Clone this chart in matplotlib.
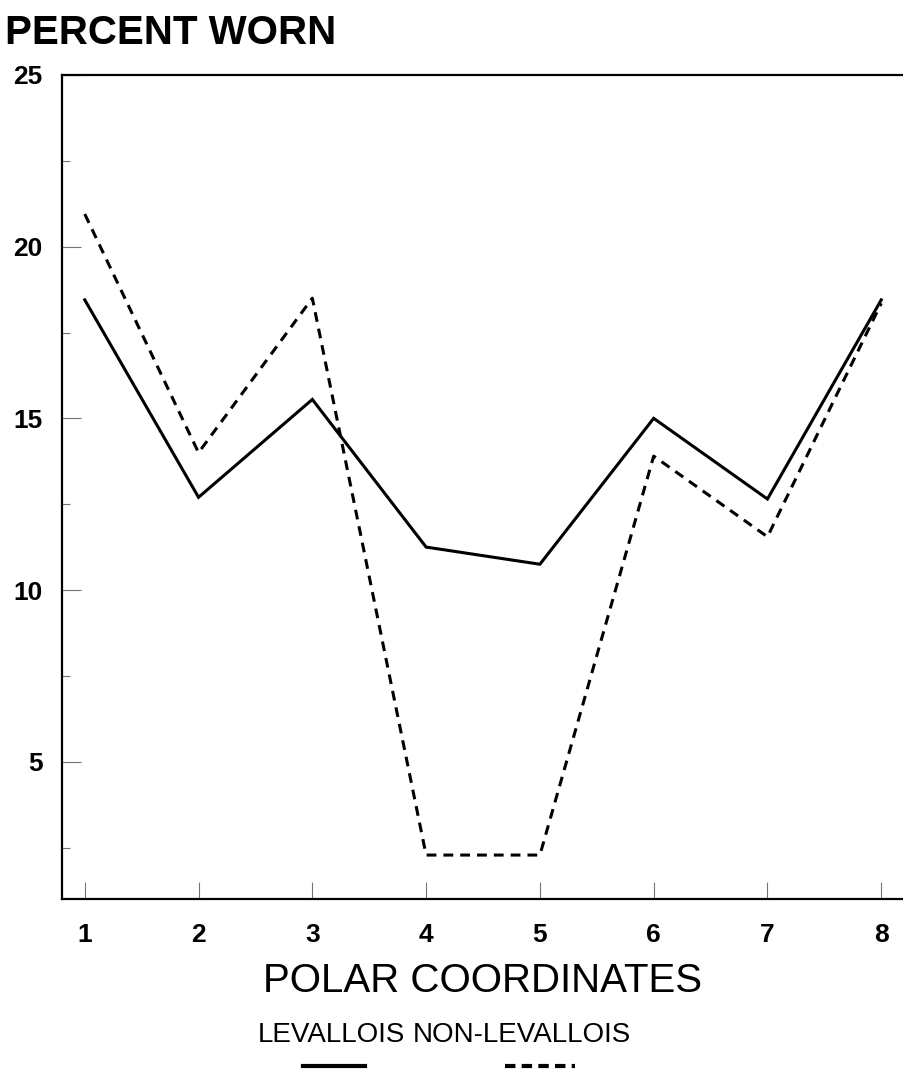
import matplotlib
matplotlib.use("Agg")
import matplotlib.pyplot as plt
from matplotlib.lines import Line2D

# Polar coordinate positions and percent worn for each tool group
polar_coords = [1, 2, 3, 4, 5, 6, 7, 8]
levallois = [18.45, 12.7, 15.55, 11.25, 10.75, 15.0, 12.65, 18.45]
non_levallois = [20.95, 14.0, 18.5, 2.28, 2.28, 13.9, 11.55, 18.35]

y_ticks = [5, 10, 15, 20, 25]
y_minor = [2.5, 7.5, 12.5, 17.5, 22.5]

plt.rcParams['font.family'] = ['Liberation Sans', 'DejaVu Sans']

fig = plt.figure(figsize=(9.04, 10.69), dpi=100)
ax = fig.add_axes([62 / 904, 1 - 899 / 1069, 1 - 62 / 904, (899 - 75) / 1069])

ax.plot(polar_coords, levallois, color='black', lw=2.2, solid_joinstyle='miter')
ax.plot(polar_coords, non_levallois, color='black', lw=2.2, dashes=(3.2, 2.3))

ax.set_xlim(0.8, 8.2)
ax.set_ylim(1, 25)
ax.set_xticks(polar_coords)
ax.set_yticks(y_ticks)
ax.set_yticks(y_minor, minor=True)

ax.tick_params(axis='both', which='both', direction='in', colors='0.45',
               labelcolor='black', labelsize=19, width=0.8)
ax.tick_params(axis='y', which='major', length=14, pad=14)
ax.tick_params(axis='y', which='minor', length=6)
ax.tick_params(axis='x', which='major', length=12, pad=17)
for lbl in ax.get_xticklabels() + ax.get_yticklabels():
    lbl.set_fontweight('bold')

for side in ['left', 'bottom', 'top']:
    ax.spines[side].set_linewidth(1.6)
ax.spines['right'].set_visible(False)

ax.set_xlabel('POLAR COORDINATES', fontsize=29, labelpad=11)
fig.text(5 / 904, 1 - 14 / 1069, 'PERCENT WORN', fontsize=29, fontweight='bold',
         va='top', ha='left')

# legend: labels on one line with sample lines below
fig.text(258 / 904, 1 - 1042 / 1069, 'LEVALLOIS', fontsize=20, va='baseline', ha='left')
fig.text(413 / 904, 1 - 1042 / 1069, 'NON-LEVALLOIS', fontsize=20, va='baseline', ha='left')
fig.lines.append(Line2D([303 / 904, 365 / 904], [1 - 1066 / 1069] * 2,
                        transform=fig.transFigure, color='black', lw=3))
fig.lines.append(Line2D([505 / 904, 575 / 904], [1 - 1066 / 1069] * 2,
                        transform=fig.transFigure, color='black', lw=3, dashes=(2.5, 1.5)))

fig.savefig('out.png', dpi=100)
